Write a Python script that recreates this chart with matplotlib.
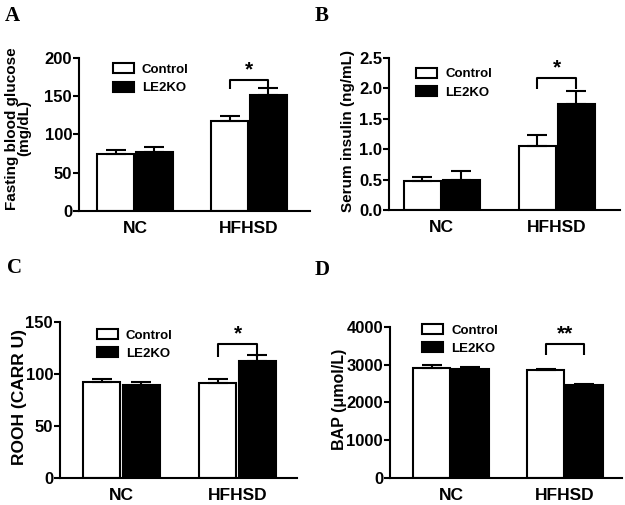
import matplotlib
matplotlib.use("Agg")
import matplotlib.pyplot as plt
import numpy as np

groups = ["NC", "HFHSD"]
series_names = ["Control", "LE2KO"]

glucose_ctrl = [74, 118]
glucose_ctrl_err = [6, 6]
glucose_ko = [77, 151]
glucose_ko_err = [6, 10]

insulin_ctrl = [0.48, 1.05]
insulin_ctrl_err = [0.06, 0.18]
insulin_ko = [0.50, 1.75]
insulin_ko_err = [0.14, 0.20]

rooh_ctrl = [92, 91]
rooh_ctrl_err = [3, 4]
rooh_ko = [89, 112]
rooh_ko_err = [3, 6]

bap_ctrl = [2910, 2860]
bap_ctrl_err = [70, 40]
bap_ko = [2880, 2450]
bap_ko_err = [60, 30]

plt.rcParams["font.family"] = ["Liberation Sans", "DejaVu Sans"]
plt.rcParams["font.weight"] = "bold"

LW = 1.5
BAR_W = 0.32
OFFSET = 0.17


def draw_panel(ax, ctrl, ctrl_err, ko, ko_err, ylim, yticks, ylabel, label_size, sig, label_xy, legend_pos, xlim):
    x = np.arange(len(groups))
    ax.bar(x - OFFSET, ctrl, BAR_W, color="white", edgecolor="black", linewidth=LW, label=series_names[0], zorder=2)
    ax.bar(x + OFFSET, ko, BAR_W, color="black", edgecolor="black", linewidth=LW, label=series_names[1], zorder=2)
    for xs, vals, errs in [(x - OFFSET, ctrl, ctrl_err), (x + OFFSET, ko, ko_err)]:
        ax.errorbar(xs, vals, yerr=[np.zeros(len(errs)), errs], fmt="none", ecolor="black",
                    elinewidth=LW, capsize=7, capthick=LW, zorder=3)

    gi, top, leg, text = sig
    x1, x2 = gi - OFFSET, gi + OFFSET
    ax.plot([x1, x1, x2, x2], [top - leg, top, top, top - leg], color="black", lw=LW,
            solid_capstyle="butt", clip_on=False, zorder=4)
    ax.text((x1 + x2) / 2, top + (ylim[1] - ylim[0]) * 0.005, text, ha="center", va="bottom",
            fontsize=15, fontweight="bold")

    ax.set_xlim(*xlim)
    ax.set_ylim(*ylim)
    ax.set_yticks(yticks)
    ax.set_xticks(x)
    ax.set_xticklabels(groups, fontsize=12.5, fontweight="bold")
    ax.tick_params(axis="x", length=0, pad=7)
    ax.tick_params(axis="y", length=4, width=LW, labelsize=12, pad=1)
    for lab in ax.get_yticklabels():
        lab.set_fontweight("bold")
    ax.spines["top"].set_visible(False)
    ax.spines["right"].set_visible(False)
    ax.spines["left"].set_linewidth(LW)
    ax.spines["bottom"].set_linewidth(LW)
    ax.set_ylabel(ylabel, fontsize=label_size, fontweight="bold", linespacing=0.9)
    ax.yaxis.set_label_coords(*label_xy)
    ax.legend(loc="upper left", bbox_to_anchor=legend_pos, frameon=False,
              handlelength=1.6, handleheight=0.8, handletextpad=0.6, labelspacing=0.42,
              borderpad=0, borderaxespad=0, prop={"weight": "bold", "size": 9.5})


fig = plt.figure(figsize=(6.25, 5.05), dpi=100)

ax_a = fig.add_axes([0.1264, 0.5822, 0.3696, 0.303])
draw_panel(ax_a, glucose_ctrl, glucose_ctrl_err, glucose_ko, glucose_ko_err,
           (0, 200), [0, 50, 100, 150, 200], "Fasting blood glucose\n(mg/dL)", 11,
           (1, 171, 12, "*"), (-0.205, 0.54), (0.147, 0.965), (-0.49, 1.535))

ax_b = fig.add_axes([0.6224, 0.5842, 0.3696, 0.301])
draw_panel(ax_b, insulin_ctrl, insulin_ctrl_err, insulin_ko, insulin_ko_err,
           (0, 2.5), [0.0, 0.5, 1.0, 1.5, 2.0, 2.5], "Serum insulin (ng/mL)", 11,
           (1, 2.17, 0.18, "*"), (-0.147, 0.52), (0.117, 0.935), (-0.46, 1.55))
ax_b.set_yticklabels(["0.0", "0.5", "1.0", "1.5", "2.0", "2.5"], fontweight="bold")

ax_c = fig.add_axes([0.096, 0.0535, 0.379, 0.309])
draw_panel(ax_c, rooh_ctrl, rooh_ctrl_err, rooh_ko, rooh_ko_err,
           (0, 150), [0, 50, 100, 150], "ROOH (CARR U)", 12.5,
           (1, 129, 13, "*"), (-0.139, 0.52), (0.156, 0.955), (-0.53, 1.51))

ax_d = fig.add_axes([0.624, 0.0535, 0.371, 0.299])
draw_panel(ax_d, bap_ctrl, bap_ctrl_err, bap_ko, bap_ko_err,
           (0, 4000), [0, 1000, 2000, 3000, 4000], "BAP (\u03bcmol/L)", 11.5,
           (1, 3550, 290, "**"), (-0.185, 0.52), (0.138, 1.02), (-0.535, 1.5))

letter_font = {"family": ["Liberation Serif", "DejaVu Serif"], "weight": "bold", "size": 15}
fig.text(0.008, 0.968, "A", va="center", ha="left", fontdict=letter_font)
fig.text(0.504, 0.968, "B", va="center", ha="left", fontdict=letter_font)
fig.text(0.011, 0.469, "C", va="center", ha="left", fontdict=letter_font)
fig.text(0.504, 0.465, "D", va="center", ha="left", fontdict=letter_font)

fig.savefig("out.png", dpi=100)
plt.close(fig)
